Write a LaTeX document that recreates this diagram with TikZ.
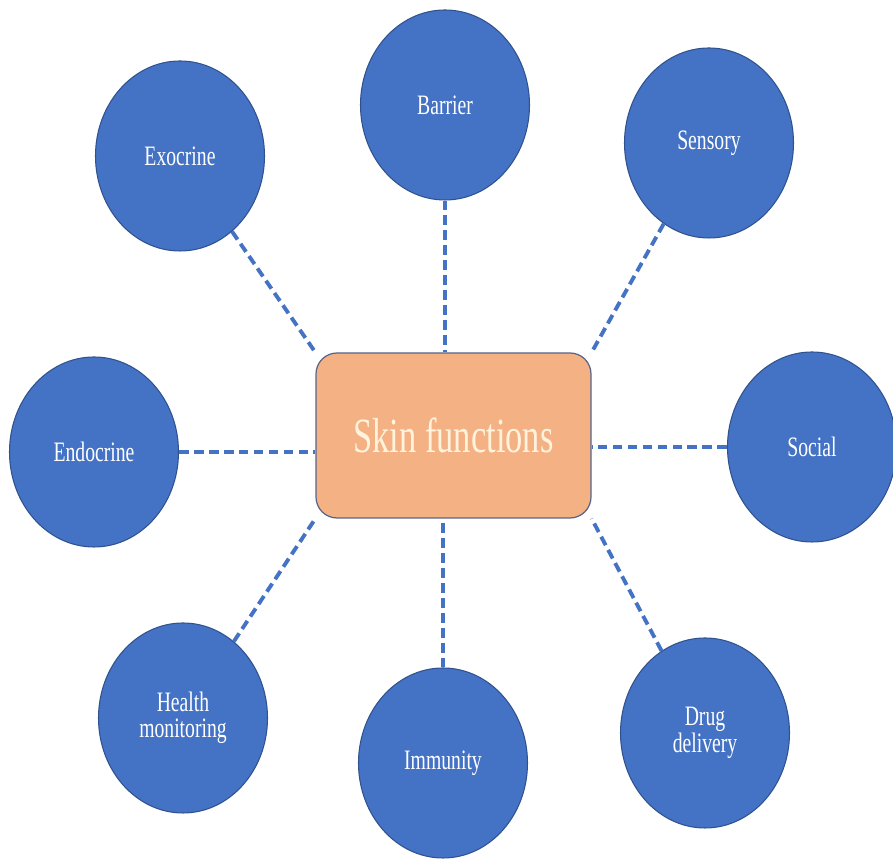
\documentclass[tikz,border=0pt]{standalone}
\usepackage{fontspec}
\setmainfont{Liberation Serif}[FakeStretch=0.70]
\usepackage{xcolor}
\usepackage{tikz}
\usetikzlibrary{shapes.geometric}
\definecolor{SFBlue}{HTML}{4472C4}
\definecolor{SFEdge}{HTML}{2F528F}
\definecolor{SFOrange}{HTML}{F4B183}
\definecolor{SFCream}{HTML}{FFF3DE}

\begin{document}
\begin{tikzpicture}[x=1cm,y=1cm,
  func/.style={ellipse,fill=SFBlue,draw=SFEdge,line width=0.6pt,minimum width=3.38cm,minimum height=3.80cm,inner sep=0pt,align=center,text=white,font=\fontsize{16}{15}\selectfont},
  hub/.style={rectangle,rounded corners=0.42cm,fill=SFOrange,draw=SFEdge!80!SFOrange,line width=0.7pt,minimum width=5.50cm,minimum height=3.30cm,text=SFCream,font=\fontsize{28}{30}\selectfont},
  link/.style={SFBlue,line width=2.2pt,dash pattern=on 5.5pt off 3pt}]
\path[use as bounding box] (0,0) rectangle (17.86,17.24);
\node[hub] (skin) at (9.07,8.53) {Skin functions};
\node[func] (exocrine) at (3.60,14.12) {Exocrine};
\node[func] (barrier) at (8.90,15.14) {Barrier};
\node[func] (sensory) at (14.18,14.38) {Sensory};
\node[func] (endocrine) at (1.88,8.20) {Endocrine};
\node[func] (social) at (16.24,8.30) {Social};
\node[func] (health) at (3.66,2.88) {Health\\monitoring};
\node[func] (immunity) at (8.86,1.98) {Immunity};
\node[func] (drug) at (14.10,2.58) {Drug\\delivery};
\draw[link] (exocrine) -- (skin.north west);
\draw[link] (barrier) -- (barrier |- skin.north);
\draw[link] (sensory) -- (skin.north east);
\draw[link] (endocrine) -- (endocrine -| skin.west);
\draw[link] (social) -- (social -| skin.east);
\draw[link] (health) -- (skin.south west);
\draw[link] (immunity) -- (immunity |- skin.south);
\draw[link] (drug) -- (skin.south east);
\end{tikzpicture}
\end{document}
